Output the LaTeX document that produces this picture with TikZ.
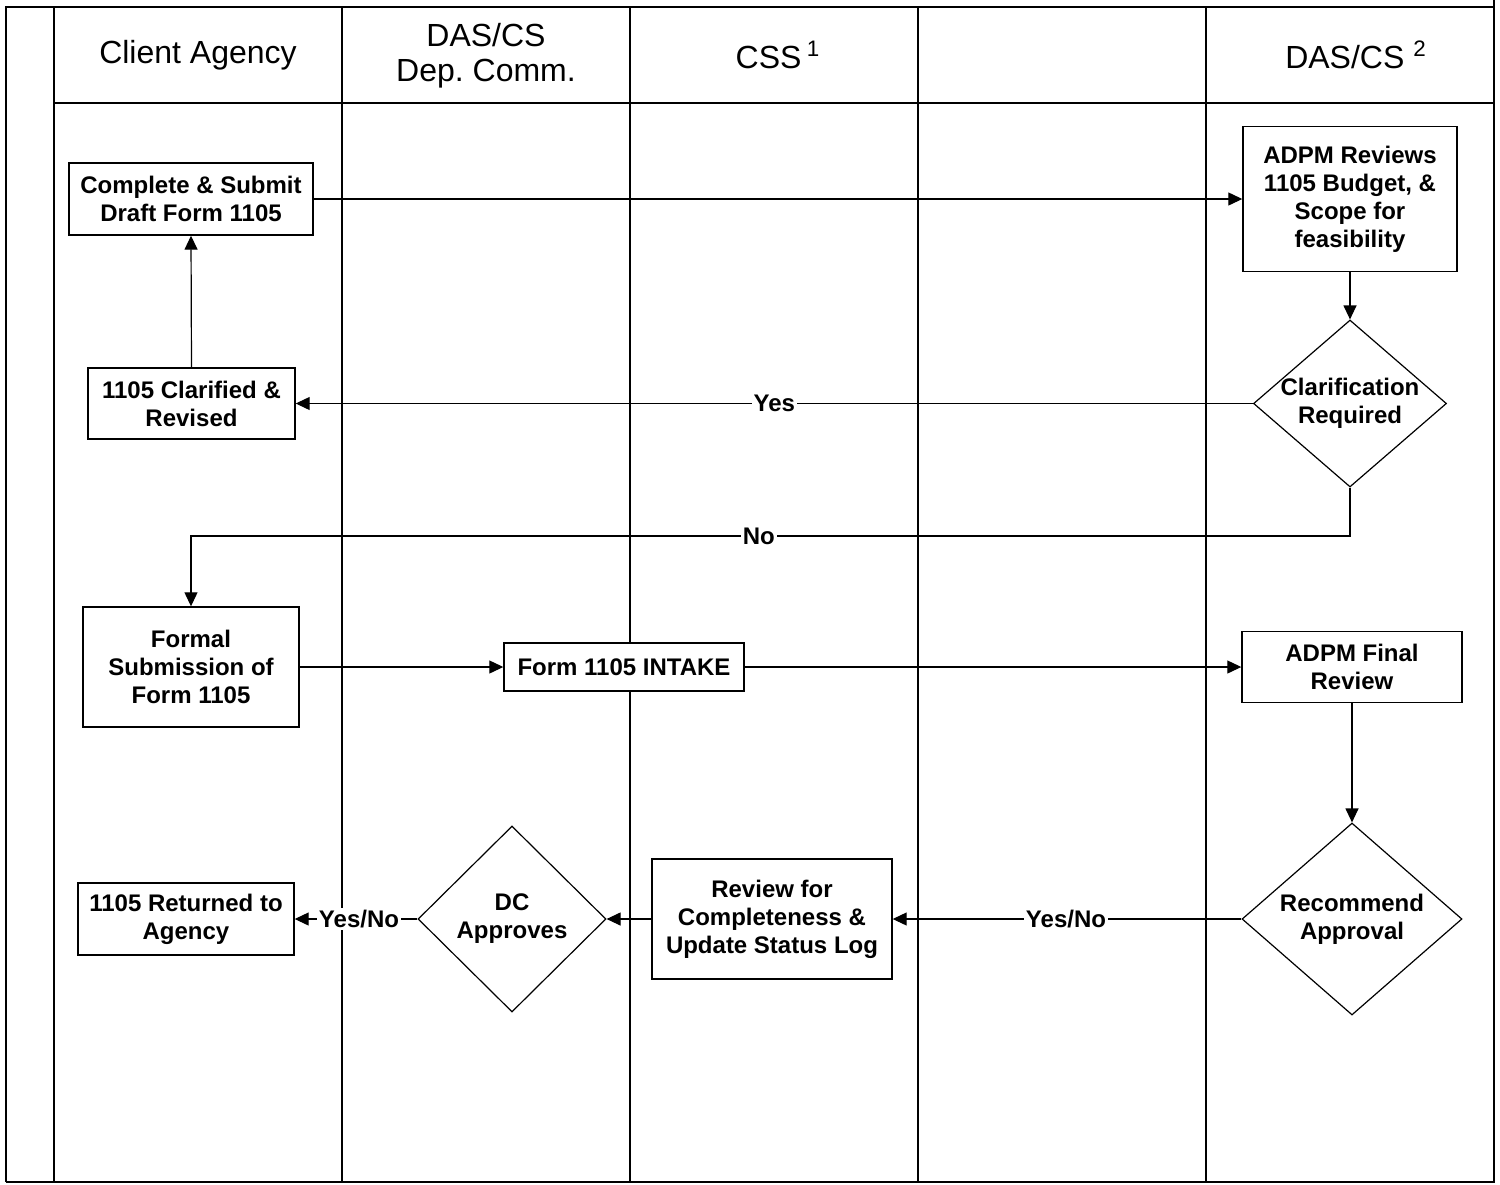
\documentclass[tikz,border=0pt]{standalone}
\usepackage{fontspec}
\setmainfont{Liberation Sans}
\usetikzlibrary{arrows.meta,shapes.geometric}
\frenchspacing
\begin{document}
\begin{tikzpicture}[x=0.5pt,y=-0.5pt,
  frame/.style={line width=1.2pt,draw=black},
  lane/.style={line width=0.9pt,draw=black},
  hdr/.style={align=center,font=\fontsize{16}{17.5}\selectfont,inner sep=0pt},
  box/.style={draw,line width=0.7pt,fill=white,align=center,inner sep=0pt,
    font=\bfseries\fontsize{12}{14}\selectfont},
  dia/.style={diamond,draw,line width=0.6pt,fill=white,inner sep=0pt},
  dtext/.style={align=center,inner sep=0pt,font=\bfseries\fontsize{12}{14}\selectfont},
  arr/.style={line width=0.6pt,-{Triangle[length=7pt,width=6.5pt]}},
  lbl/.style={fill=white,inner sep=1pt,font=\bfseries\fontsize{12}{14}\selectfont}]
\useasboundingbox (0,0) rectangle (1500,1184);
% frame and lanes
\draw[frame] (6,1182) -- (6,7) -- (1494,7);
\draw[frame] (1494,0) -- (1494,1182) -- (6,1182);
\foreach \x in {54,342,630,918,1206} \draw[lane] (\x,7) -- (\x,1182);
\draw[lane] (54,103) -- (1494,103);
% headers
\node[hdr] (h1) at (198,55) {Client Agency};
\node[hdr] (h2) at (486,56) {DAS/CS\\Dep. Comm.};
\node[hdr] (h3) at (778,55) {CSS\,\textsuperscript{1}};
\node[hdr] (h5) at (1356,55) {DAS/CS \textsuperscript{2}};
% boxes
\node[box,minimum width=122pt,minimum height=36pt] (a1) at (191,199) {Complete \& Submit\\Draft Form 1105};
\node[box,minimum width=103.5pt,minimum height=35.5pt] (a2) at (191.5,403.5) {1105 Clarified \&\\Revised};
\node[box,minimum width=107pt,minimum height=72.5pt] (b1) at (1350,199) {ADPM Reviews\\1105 Budget, \&\\Scope for\\feasibility};
\node[dia,minimum width=96.5pt,minimum height=83.5pt] (d1) at (1350,403.5) {};
\node[dtext] (d1t) at (d1.center) {Clarification\\Required};
\node[box,minimum width=108pt,minimum height=60pt] (a3) at (191,667) {Formal\\Submission of\\Form 1105};
\node[box,minimum width=120pt,minimum height=24pt] (c1) at (624,667) {Form 1105 INTAKE};
\node[box,minimum width=110pt,minimum height=35.5pt] (b2) at (1352,667) {ADPM Final\\Review};
\node[dia,minimum width=110pt,minimum height=96pt] (d2) at (1352,919) {};
\node[dtext] (d2t) at (d2.center) {Recommend\\Approval};
\node[box,minimum width=120pt,minimum height=60pt] (c2) at (772,919) {Review for\\Completeness \&\\Update Status Log};
\node[dia,minimum width=94pt,minimum height=93pt] (d3) at (512,919) {};
\node[dtext] (d3t) at (d3.center) {DC\\Approves};
\node[box,minimum width=108pt,minimum height=36pt] (a4) at (186,919) {1105 Returned to\\Agency};
% connectors
\draw[arr] (a1.east) -- (b1.west);
\draw[arr] (a2.north) -- (a1.south);
\draw[arr] (b1.south) -- (d1.north);
\draw[arr] (d1.west) -- node[lbl] (yes1) {Yes} (a2.east);
\coordinate (nc) at (1350,536);
\draw[arr] (d1.south) -- (nc) -| node[lbl,pos=0.255] (no1) {No} (a3.north);
\draw[arr] (a3.east) -- (c1.west);
\draw[arr] (c1.east) -- (b2.west);
\draw[arr] (b2.south) -- (d2.north);
\draw[arr] (d2.west) -- node[lbl,pos=0.503] (yn1) {Yes/No} (c2.east);
\draw[arr] (c2.west) -- (d3.east);
\draw[arr] (d3.west) -- node[lbl,pos=0.476] (yn2) {Yes/No} (a4.east);
\end{tikzpicture}
\end{document}
